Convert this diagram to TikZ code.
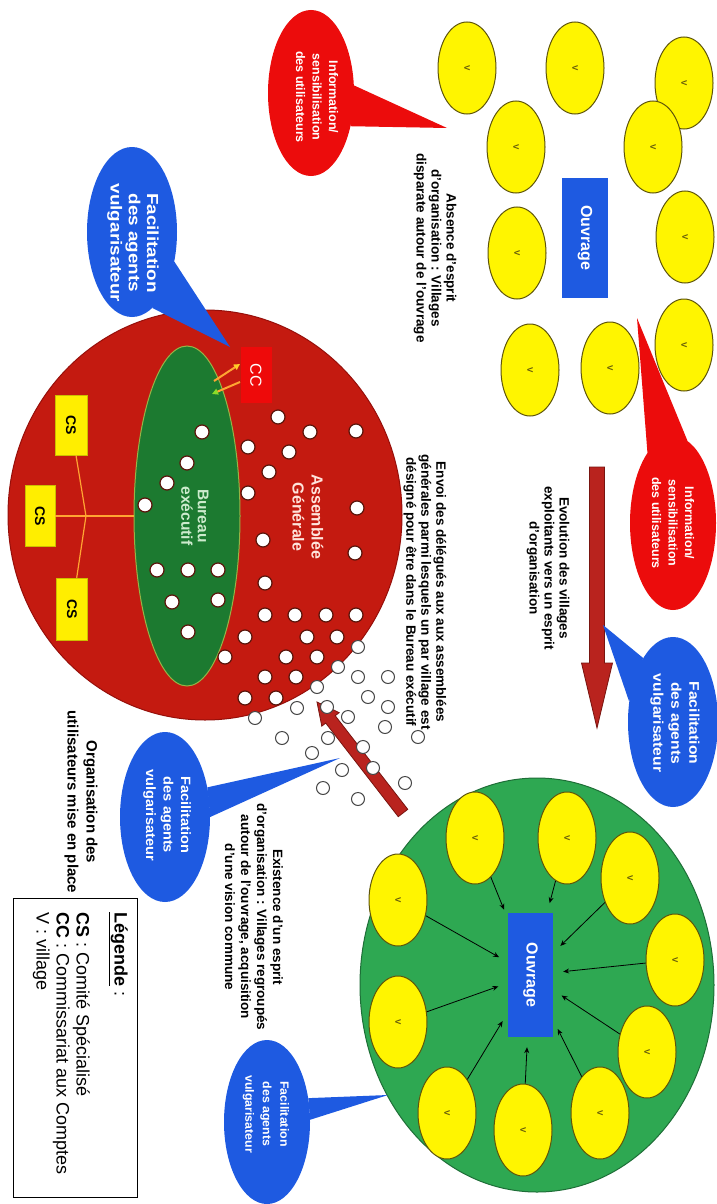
\documentclass[tikz,border=0pt]{standalone}
\usepackage{fontspec}
\setmainfont{Liberation Sans}
\usetikzlibrary{shapes.geometric,calc,arrows.meta}
\definecolor{vyellow}{RGB}{255,245,0}
\definecolor{volive}{RGB}{95,85,10}
\definecolor{oblue}{RGB}{30,90,225}
\definecolor{cblue}{RGB}{30,90,225}
\definecolor{cred}{RGB}{236,12,12}
\definecolor{agred}{RGB}{196,26,16}
\definecolor{agedge}{RGB}{150,15,10}
\definecolor{agtext}{RGB}{255,228,220}
\definecolor{begreen}{RGB}{28,122,48}
\definecolor{beedge}{RGB}{150,180,70}
\definecolor{betext}{RGB}{205,235,205}
\definecolor{gcgreen}{RGB}{46,168,82}
\definecolor{gcedge}{RGB}{30,110,55}
\definecolor{ccred}{RGB}{238,10,10}
\definecolor{csyellow}{RGB}{255,238,0}
\definecolor{orline}{RGB}{255,165,50}
\definecolor{tipyellow}{RGB}{255,205,40}
\definecolor{limecol}{RGB}{140,220,40}
\definecolor{arrowred}{RGB}{185,35,30}
\definecolor{arrowdark}{RGB}{120,20,15}
\definecolor{dotedge}{RGB}{90,20,10}
\definecolor{hollowedge}{RGB}{70,70,70}
\begin{document}
\begin{tikzpicture}[x=1pt,y=-1pt,
  vt/.style={rotate=-90,align=center,inner sep=0pt},
  txt/.style={vt,font=\fontsize{13.5}{15}\selectfont\bfseries},
  village/.style={ellipse,rotate=-90,minimum width=92pt,minimum height=58pt,inner sep=0pt,fill=vyellow,draw=volive,line width=1pt,text=volive,font=\fontsize{8}{8}\selectfont\bfseries},
  ouvbox/.style={rectangle,rotate=-90,fill=oblue,inner sep=0pt,text=white,font=\fontsize{16}{16}\selectfont\bfseries},
  bubble/.style={ellipse,inner sep=0pt},
  dot/.style={circle,fill=white,draw=dotedge,line width=1.2pt,minimum size=14pt,inner sep=0pt},
  hollow/.style={circle,fill=white,draw=hollowedge,line width=1pt,minimum size=13pt,inner sep=0pt},
  varrow/.style={-{Stealth[length=6pt,width=5pt]},line width=0.8pt,black,shorten >=10pt},
  csconn/.style={draw=orline,line width=1.2pt},
  csbox/.style={rectangle,rotate=-90,fill=csyellow,draw=csyellow!80!black,line width=0.4pt,inner sep=0pt,font=\fontsize{14}{14}\selectfont\bfseries},
  bigarrow/.style={fill=arrowred,draw=arrowdark,line width=0.8pt}
]
\fill[white] (0,0) rectangle (717,1204);
\useasboundingbox (0,0) rectangle (717,1204);

% ---------- Assemblee generale ----------
\node[ellipse,fill=agred,draw=agedge,line width=1pt,minimum width=394pt,minimum height=410pt,inner sep=0pt] (ag) at (205,515) {};
\node[ellipse,fill=begreen,draw=beedge,line width=1pt,minimum width=106pt,minimum height=340pt,inner sep=0pt] (be) at (187,516) {};
\node[rectangle,rotate=-90,fill=ccred,minimum width=56pt,minimum height=31pt,inner sep=0pt,text=white,font=\fontsize{16}{16}\selectfont] (cc) at (256,375) {CC};
\node[csbox,minimum width=60pt,minimum height=32pt] (cs1) at (71,425) {CS};
\node[csbox,minimum width=61pt,minimum height=30pt] (cs2) at (40,516) {CS};
\node[csbox,minimum width=62pt,minimum height=31pt] (cs3) at (72,609) {CS};
\coordinate (jn) at (86,516);
\draw[csconn] (cs2) -- (be);
\draw[csconn] (cs1) -- (jn) -- (cs3);
\coordinate (a1s) at (214,381); \coordinate (a1e) at (240,364);
\coordinate (a2s) at (240,382); \coordinate (a2e) at (212,394);
\draw[line width=2pt,orline,-{Triangle[length=6pt,width=6pt,color=tipyellow,fill=tipyellow]}] (a1s) -- (a1e);
\draw[line width=2pt,orline,-{Triangle[length=6pt,width=6pt,color=limecol,fill=limecol]}] (a2s) -- (a2e);
\foreach \p [count=\i] in {(278,417),(310,432),(356,431),(248,447),(289,452),(269,472),(248,493),(357,508),(263,540),(355,553),(265,583),(265,615),(295,615),(326,615),(356,615),(245,637),(307,637),(337,637),(225,657),(286,657),(317,657),(265,677),(296,677),(245,698),(276,698)}
  \node[dot] (ad\i) at \p {};
\foreach \p [count=\i] in {(202,432),(187,463),(167,483),(145,505),(157,570),(188,570),(218,570),(172,602),(218,600),(188,632)}
  \node[dot] (bd\i) at \p {};
\node[vt,text=agtext,font=\fontsize{16}{19}\selectfont\bfseries] (agt) at (308,517) {Assemblée\\Générale};
\node[vt,text=betext,font=\fontsize{15.5}{16.5}\selectfont\bfseries] (bet) at (195,516) {Bureau\\exécutif};

% ---------- organised villages ----------
\node[ellipse,fill=gcgreen,draw=gcedge,line width=1pt,minimum width=354pt,minimum height=414pt,inner sep=0pt] (gc) at (537,985) {};
\node[ouvbox,minimum width=124pt,minimum height=45pt] (og) at (530.5,975) {Ouvrage};
\foreach \p [count=\i] in {(475,838),(567,838),(630,878),(675,960),(647,1052),(600,1113),(523,1130),(447,1113),(398,1022),(398,900)}
  \node[village] (gv\i) at \p {V};
\foreach \i in {1,...,10} \draw[varrow] (gv\i) -- (og);

% ---------- diagonal arrow and delegates ----------
\coordinate (dT) at (403,813); \coordinate (dP) at (317,702);
\coordinate (dB) at ($(dP)!22pt!(dT)$);
\filldraw[bigarrow] ($(dT)!6pt!90:(dP)$) -- ($(dB)!6pt!90:(dP)$) -- ($(dB)!11pt!90:(dP)$) -- (dP) -- ($(dB)!11pt!-90:(dP)$) -- ($(dB)!6pt!-90:(dP)$) -- ($(dT)!6pt!-90:(dP)$) -- cycle;
\foreach \p [count=\i] in {(358,647),(338,667),(358,677),(388,677),(317,687),(368,697),(388,707),(297,708),(327,707),(348,717),(385,727),(255,718),(282,738),(328,738),(363,747),(312,753),(342,770),(373,768),(418,737),(405,783),(323,788),(358,799)}
  \node[hollow] (hd\i) at \p {};

% ---------- scattered villages ----------
\foreach \p [count=\i] in {(467,68),(575,68),(684,83),(516,147),(653,147),(517,253),(685,237),(684,345),(610,368),(530,370)}
  \node[village] (tv\i) at \p {V};
\node[ouvbox,minimum width=120pt,minimum height=46pt] (ot) at (585,238) {Ouvrage};

% ---------- evolution arrow ----------
\coordinate (evT) at (597,467); \coordinate (evP) at (597,728);
\coordinate (evB) at ($(evP)!65pt!(evT)$);
\filldraw[bigarrow] ($(evT)!7.5pt!90:(evP)$) -- ($(evB)!7.5pt!90:(evP)$) -- ($(evB)!15.5pt!90:(evP)$) -- (evP) -- ($(evB)!15.5pt!-90:(evP)$) -- ($(evB)!7.5pt!-90:(evP)$) -- ($(evT)!7.5pt!-90:(evP)$) -- cycle;

% ---------- callouts ----------
\node[bubble,fill=cred,minimum width=86pt,minimum height=166pt] (cr1) at (311,93) {};
\coordinate (cr1tip) at (447,128);
\fill[cred] (cr1.10) -- (cr1tip) -- (cr1.-40) -- cycle;
\node[vt,text=white,font=\fontsize{12.5}{16.5}\selectfont\bfseries] (cr1t) at (317,97) {Information/\\sensibilisation\\des utilisateurs};

\node[bubble,fill=cred,minimum width=86pt,minimum height=174pt] (cr2) at (673,523) {};
\coordinate (cr2tip) at (637,318);
\fill[cred] (cr2.110) -- (cr2tip) -- (cr2.80) -- cycle;
\node[vt,text=white,font=\fontsize{12.5}{16.5}\selectfont\bfseries] (cr2t) at (673,523) {Information/\\sensibilisation\\des utilisateurs};

\node[bubble,fill=cblue,minimum width=90pt,minimum height=170pt] (cb1) at (132,232) {};
\coordinate (cb1tip) at (230,347);
\fill[cblue] (cb1.-75) -- (cb1tip) -- (cb1.-35) -- cycle;
\node[vt,xscale=1.18,text=white,font=\fontsize{16}{18.3}\selectfont\bfseries] (cb1t) at (133,243) {Facilitation\\des agents\\vulgarisateur};

\node[bubble,fill=cblue,minimum width=90pt,minimum height=170pt] (cb2) at (673,722) {};
\coordinate (cb2tip) at (603,625);
\fill[cblue] (cb2.115) -- (cb2tip) -- (cb2.155) -- cycle;
\node[vt,xscale=1.12,text=white,font=\fontsize{14}{18}\selectfont\bfseries] (cb2t) at (675,723) {Facilitation\\des agents\\vulgarisateur};

\node[bubble,fill=cblue,minimum width=90pt,minimum height=170pt] (cb3) at (165,817) {};
\coordinate (cb3tip) at (340,758);
\fill[cblue] (cb3.35) -- (cb3tip) -- (cb3.0) -- cycle;
\node[vt,xscale=1.08,text=white,font=\fontsize{13.5}{17.5}\selectfont\bfseries] (cb3t) at (167,815) {Facilitation\\des agents\\vulgarisateur};

\node[bubble,fill=cblue,minimum width=86pt,minimum height=164pt] (cb4) at (267,1122) {};
\coordinate (cb4tip) at (388,1095);
\fill[cblue] (cb4.30) -- (cb4tip) -- (cb4.3) -- cycle;
\node[vt,xscale=1.03,text=white,font=\fontsize{12}{17.5}\selectfont\bfseries] (cb4t) at (266,1114) {Facilitation\\des agents\\vulgarisateur};

% ---------- texts ----------
\node[txt] (abs) at (435,248) {Absence d'esprit\\d'organisation : Villages\\disparate autour de l'ouvrage};
\node[txt] (evo) at (548,568) {Evolution des villages\\exploitants vers un esprit\\d'organisation};
\node[txt] (env) at (425,592) {Envoi des délégués aux aux assemblées\\générales parmi lesquels un par village est\\désigné pour être dans le Bureau exécutif};
\node[vt,font=\fontsize{13.5}{16}\selectfont\bfseries] (exi) at (254,917) {Existence d'un esprit\\d'organisation : Villages regroupés\\autour de l'ouvrage, acquisition\\d'une vision commune};
\node[vt,font=\fontsize{15}{19}\selectfont\bfseries] (org) at (81,802) {Organisation des\\utilisateurs mise en place};

% ---------- legend ----------
\node[draw,line width=0.8pt,minimum width=124pt,minimum height=299pt,inner sep=0pt] (leg) at (75,1047.5) {};
\node[vt,anchor=north west,align=left,font=\fontsize{18}{20}\selectfont] (legt) at (128,912) {\textbf{\underline{Légende}} :\\[18pt]\textbf{CS} : Comité Spécialisé\\\textbf{CC} : Commissariat aux Comptes\\V : village};
\end{tikzpicture}
\end{document}
